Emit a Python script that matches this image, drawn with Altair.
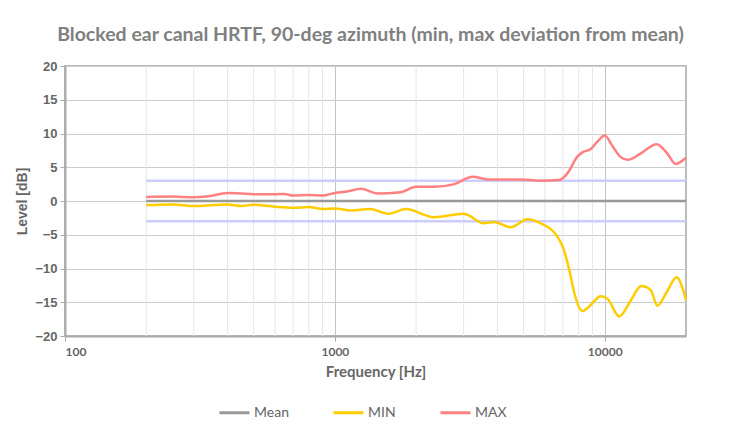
import altair as alt
import pandas as pd

TITLE = "Blocked ear canal HRTF, 90-deg azimuth (min, max deviation from mean)"

max_freq = [200, 250, 300, 340, 400, 450, 500, 600, 650, 700, 800, 900, 1000, 1110, 1250,
            1440, 1750, 2000, 2330, 2770, 3240, 3680, 4880, 5790, 6770, 7270, 7930, 8260,
            8870, 9390, 10000, 10660, 11460, 12150, 13650, 15570, 17010, 18300, 20000]
max_db = [0.6, 0.65, 0.55, 0.7, 1.2, 1.1, 1.0, 1.0, 1.05, 0.8, 0.9, 0.8, 1.2, 1.4, 1.8,
          1.1, 1.3, 2.1, 2.1, 2.5, 3.6, 3.2, 3.2, 3.0, 3.1, 4.1, 6.6, 7.2,
          7.7, 8.8, 9.7, 8.2, 6.5, 6.1, 7.1, 8.4, 7.1, 5.5, 6.4]

min_freq = [200, 250, 300, 400, 450, 500, 600, 700, 800, 900, 1000, 1150, 1340, 1590, 1830,
            2330, 3000, 3570, 3890, 4480, 5170, 5790, 6600, 6990, 7390, 7720, 8260, 8870,
            9660, 10250, 11300, 12500, 13650, 14800, 15670, 17010, 18460, 20000]
min_db = [-0.6, -0.5, -0.75, -0.5, -0.75, -0.55, -0.85, -1.0, -0.9, -1.2, -1.1, -1.4, -1.2, -1.9, -1.2,
          -2.4, -1.9, -3.3, -3.1, -3.9, -2.7, -3.3, -5.0, -6.8, -10.2, -13.7, -16.3, -15.4,
          -14.1, -14.5, -17.1, -14.7, -12.6, -13.2, -15.5, -13.4, -11.3, -14.7]

mean_freq = [200, 20000]
mean_db = [0, 0]

band_freq = [200, 20000]
band_upper = [3, 3]
band_lower = [-3, -3]

series_names = ["Mean", "MIN", "MAX"]
series_colors = ["#999999", "#FFCC00", "#FF8080"]

major_ticks = [100, 1000, 10000]
minor_grid = [200, 300, 400, 500, 600, 700, 800, 900,
              2000, 3000, 4000, 5000, 6000, 7000, 8000, 9000]
y_ticks = [-20, -15, -10, -5, 0, 5, 10, 15, 20]

rows = []
for f, v in zip(mean_freq, mean_db):
    rows.append({"freq": f, "level": v, "series": "Mean"})
for f, v in zip(min_freq, min_db):
    rows.append({"freq": f, "level": v, "series": "MIN"})
for f, v in zip(max_freq, max_db):
    rows.append({"freq": f, "level": v, "series": "MAX"})
df = pd.DataFrame(rows)

band_rows = []
for f, v in zip(band_freq, band_upper):
    band_rows.append({"freq": f, "level": v, "band": "upper"})
for f, v in zip(band_freq, band_lower):
    band_rows.append({"freq": f, "level": v, "band": "lower"})
band_df = pd.DataFrame(band_rows)

grid_df = pd.DataFrame({"freq": minor_grid})

xscale = alt.Scale(type="log", domain=[100, 20000], nice=False)
yscale = alt.Scale(domain=[-20, 20], nice=False)

xaxis = alt.Axis(values=major_ticks, title="Frequency [Hz]", format="d",
                 grid=True, gridColor="#c4c4c4", gridWidth=1,
                 domainColor="#aaaaaa", domainWidth=2,
                 tickColor="#aaaaaa", tickSize=5, tickWidth=1,
                 labelFont="Lato", labelFontSize=12, labelColor="#666666",
                 labelFontWeight="bold", labelPadding=5,
                 titleFont="Lato", titleFontSize=15, titleColor="#666666",
                 titleFontWeight="bold", titlePadding=7)

yaxis = alt.Axis(values=y_ticks, title="Level [dB]",
                 grid=True, gridColor="#cccccc", gridWidth=1,
                 domainColor="#aaaaaa", domainWidth=2,
                 tickColor="#aaaaaa", tickSize=5, tickWidth=1,
                 labelFont="Arial", labelFontSize=13, labelColor="#666666",
                 labelFontWeight="bold", labelPadding=3,
                 titleFont="Arial", titleFontSize=14, titleColor="#666666",
                 titleFontWeight="bold", titlePadding=5)

grid_layer = alt.Chart(grid_df).mark_rule(color="#e6e6e6", strokeWidth=1).encode(
    x=alt.X("freq:Q", scale=xscale, axis=xaxis),
)

band_layer = alt.Chart(band_df).mark_line(color="#ccccff", strokeWidth=2.5).encode(
    x=alt.X("freq:Q", scale=xscale, axis=xaxis),
    y=alt.Y("level:Q", scale=yscale, axis=yaxis),
    detail="band:N",
)

lines = alt.Chart(df).mark_line(strokeWidth=2.5, interpolate="monotone").encode(
    x=alt.X("freq:Q", scale=xscale, axis=xaxis),
    y=alt.Y("level:Q", scale=yscale, axis=yaxis),
    color=alt.Color("series:N",
                    scale=alt.Scale(domain=series_names, range=series_colors),
                    sort=series_names,
                    legend=alt.Legend(title=None, orient="none", direction="horizontal",
                                      legendX=153, legendY=330,
                                      symbolType="stroke", symbolStrokeWidth=3,
                                      symbolSize=900, labelOffset=3,
                                      columnPadding=38,
                                      labelFont="Lato", labelFontSize=14,
                                      labelColor="#666666")),
    order=alt.Order("series_order:Q"),
).transform_calculate(
    series_order="datum.series == 'Mean' ? 0 : (datum.series == 'MIN' ? 1 : 2)"
)

chart = alt.layer(grid_layer, band_layer, lines).properties(
    width=621,
    height=270,
    padding={"left": 57, "top": 58, "right": 36, "bottom": 90},
    autosize=alt.AutoSizeParams(type="none"),
    title=alt.TitleParams(TITLE, font="Lato", fontSize=19.5, fontWeight="bold",
                          color="#808080", anchor="middle", offset=15, dx=-5),
).configure_view(
    stroke="#bbbbbb", strokeWidth=2
)

chart.save("out.html", embed_options={"renderer": "svg", "actions": False})
